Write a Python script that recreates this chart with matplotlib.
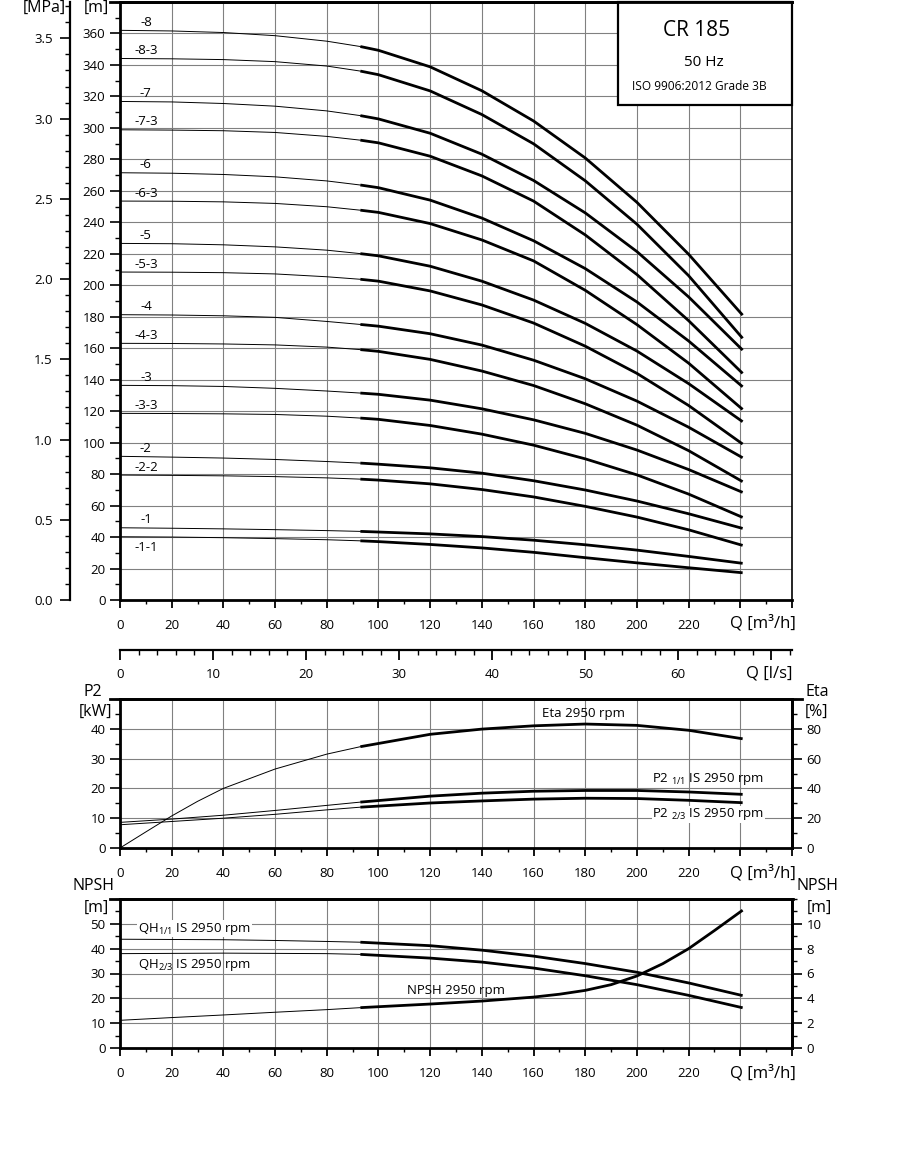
import numpy as np
import matplotlib
matplotlib.use("Agg")
import matplotlib.pyplot as plt
from matplotlib.lines import Line2D
from matplotlib.patches import Rectangle
from matplotlib.ticker import MultipleLocator

plt.rcParams['font.family'] = ['Open Sans', 'DejaVu Sans']
plt.rcParams['mathtext.fontset'] = 'custom'
plt.rcParams['mathtext.rm'] = 'Open Sans'
plt.rcParams['mathtext.it'] = 'Open Sans'

# ---- head curves, H [m] vs Q [m3/h] ----
q_h = [0, 20, 40, 60, 80, 93, 100, 120, 140, 160, 180, 200, 220, 240.9]
h_8   = [362, 361.6, 360.6, 358.6, 355.1, 351.7, 349.3, 338.8, 323.6, 304.4, 280.9, 252.7, 219.7, 181]
h_8_3 = [344.1, 343.9, 343.4, 342.1, 339.3, 336.1, 333.8, 323.5, 308.5, 289.9, 266.4, 238.8, 206.1, 166.3]
h_7   = [316.8, 316.5, 315.5, 313.8, 310.8, 307.8, 305.7, 296.6, 283.3, 266.6, 246.0, 221.4, 192.6, 158.8]
h_7_3 = [298.8, 298.6, 298.2, 297.1, 294.6, 292.2, 290.5, 282.0, 269.5, 253.5, 232.0, 206.8, 177.5, 144]
h_6   = [271.5, 271.2, 270.4, 268.9, 266.3, 263.7, 262.0, 254.1, 242.7, 228.3, 210.6, 189.4, 164.6, 135.5]
h_6_3 = [253.5, 253.4, 253.0, 252.0, 249.9, 247.7, 246.3, 239.2, 228.8, 215.5, 196.8, 175.0, 150.5, 121.1]
h_5   = [226.6, 226.4, 225.7, 224.4, 222.3, 220.1, 218.7, 212.1, 202.6, 190.6, 175.8, 158.2, 137.5, 113.3]
h_5_3 = [208.4, 208.3, 208.0, 207.2, 205.4, 203.8, 202.6, 196.4, 187.5, 176.0, 161.3, 144.0, 123.6, 99.1]
h_4   = [181.3, 181.1, 180.6, 179.6, 177.0, 175.1, 174.0, 169.2, 162.0, 152.4, 140.6, 126.4, 109.8, 90.4]
h_4_3 = [163.1, 163.0, 162.7, 162.1, 160.7, 159.1, 158.0, 152.9, 145.5, 136.3, 124.7, 111.1, 94.9, 75.2]
h_3   = [136.4, 136.2, 135.7, 134.5, 132.8, 131.5, 130.7, 127.0, 121.5, 114.5, 105.9, 95.3, 82.9, 68.4]
h_3_3 = [118.6, 118.5, 118.3, 117.9, 116.8, 115.6, 114.8, 110.9, 105.4, 98.4, 89.7, 79.5, 67.3, 52.5]
h_2   = [91.3, 90.8, 90.2, 89.3, 88.0, 87.0, 86.3, 84.0, 80.6, 75.8, 69.9, 62.9, 54.8, 45.5]
h_2_2 = [79.4, 79.2, 78.9, 78.4, 77.6, 76.8, 76.2, 73.8, 70.2, 65.5, 59.5, 52.7, 44.6, 34.7]
h_1   = [45.9, 45.6, 45.2, 44.7, 44.1, 43.6, 43.2, 42.0, 40.3, 38.0, 35.1, 31.7, 27.7, 23.3]
h_1_1 = [40.2, 40.0, 39.6, 39.0, 38.3, 37.6, 37.1, 35.3, 33.1, 30.3, 26.9, 23.6, 20.5, 17.3]

curve_names = ['-8', '-8-3', '-7', '-7-3', '-6', '-6-3', '-5', '-5-3',
               '-4', '-4-3', '-3', '-3-3', '-2', '-2-2', '-1', '-1-1']
curves = [h_8, h_8_3, h_7, h_7_3, h_6, h_6_3, h_5, h_5_3,
          h_4, h_4_3, h_3, h_3_3, h_2, h_2_2, h_1, h_1_1]

# ---- power / efficiency ----
q_eta = [0, 10, 20, 30, 40, 60, 80, 93, 120, 140, 160, 180, 200, 220, 240.9]
eta = [0, 10.8, 21.5, 31.3, 40, 53, 63, 68, 76.3, 79.8, 82.0, 83.2, 82.3, 79.0, 73.3]
q_p = [0, 20, 40, 60, 80, 93, 120, 140, 160, 180, 200, 220, 240.9]
p2_11 = [8.6, 9.7, 11.0, 12.6, 14.3, 15.4, 17.4, 18.4, 19.05, 19.3, 19.3, 18.8, 18.0]
p2_23 = [7.8, 8.9, 10.0, 11.3, 12.8, 13.7, 15.1, 15.8, 16.4, 16.7, 16.6, 16.0, 15.2]

# ---- NPSH panel ----
q_qh = [0, 20, 40, 60, 80, 93, 120, 140, 160, 180, 200, 220, 240.9]
qh_11 = [43.8, 43.7, 43.6, 43.3, 42.9, 42.6, 41.2, 39.4, 37.0, 34.0, 30.5, 26.2, 21.1]
qh_23 = [38.0, 38.1, 38.2, 38.1, 38.0, 37.7, 36.2, 34.6, 32.2, 29.1, 25.5, 21.2, 16.2]
q_npsh = [0, 20, 40, 60, 80, 93, 120, 140, 160, 170, 180, 190, 200, 210, 220, 230, 240.9]
npsh = [2.23, 2.45, 2.66, 2.88, 3.09, 3.25, 3.54, 3.78, 4.1, 4.33, 4.64, 5.1, 5.8, 6.79, 8.0, 9.46, 11.1]

q_split = 93          # thin line below, thick line above
M_PER_MPA = 101.97
W, H = 901, 1162
FS = 9.5
GRID = '#808080'

fig = plt.figure(figsize=(W / 100, H / 100), dpi=100)


def rect(x0, y0, x1, y1):
    return [x0 / W, 1 - y1 / H, (x1 - x0) / W, (y1 - y0) / H]


def ftext(x, y, s, **kw):
    kw.setdefault('fontsize', FS)
    kw.setdefault('va', 'center')
    return fig.text(x / W, 1 - y / H, s, **kw)


def fline(x0, x1, y, lw=2):
    fig.add_artist(Line2D([x0 / W, x1 / W], [1 - y / H, 1 - y / H], color='k', lw=lw))


def draw_curve(ax, q, v, zorder=3):
    q = np.asarray(q, float)
    v = np.asarray(v, float)
    lo = q <= q_split
    hi = q >= q_split
    ax.plot(q[lo], v[lo], color='k', lw=0.7, zorder=zorder)
    ax.plot(q[hi], v[hi], color='k', lw=2.0, zorder=zorder,
            solid_capstyle='butt', solid_joinstyle='round')


def q_axis(ax):
    ax.set_xlim(0, 260)
    ticks = list(range(0, 261, 20))
    ax.set_xticks(ticks)
    ax.set_xticklabels([str(t) if t <= 220 else '' for t in ticks])
    ax.xaxis.set_minor_locator(MultipleLocator(10))
    ax.tick_params(axis='x', which='major', length=6, width=1.3, labelsize=FS, pad=8)
    ax.tick_params(axis='x', which='minor', length=3, width=1)
    ax.grid(True, which='major', color=GRID, lw=0.8)
    ax.set_axisbelow(True)


def y_ticks(ax, pad=3.5):
    ax.tick_params(axis='y', which='major', length=7, width=1.2, labelsize=FS, pad=pad)
    ax.tick_params(axis='y', which='minor', length=3.5, width=1)


# ================= head panel =================
ax_h = fig.add_axes(rect(120, 2, 792, 600))
ax_h.set_ylim(0, 380)
q_axis(ax_h)
ax_h.set_yticks(range(0, 361, 20))
ax_h.yaxis.set_minor_locator(MultipleLocator(10))
y_ticks(ax_h)
for s in ['left', 'bottom', 'top']:
    ax_h.spines[s].set_linewidth(2)
ax_h.spines['right'].set_linewidth(1.2)

for name, h in zip(curve_names, curves):
    draw_curve(ax_h, q_h, h)
    dy = -7 if name == '-1-1' else 5
    ax_h.text(10, h[0] + dy, name, ha='center', va='center', fontsize=FS)

# model box
box_x0 = (618 - 120) / 672
box_y0 = (600 - 105) / 598
ax_h.add_patch(Rectangle((box_x0, box_y0), 1 - box_x0, 1 - box_y0, transform=ax_h.transAxes,
                         fc='white', ec='black', lw=1.6, zorder=6, clip_on=False))
ftext(697, 31, 'CR 185', fontsize=15, ha='center', zorder=7)
ftext(704, 62, '50 Hz', fontsize=11, ha='center', zorder=7)
ftext(699, 86, 'ISO 9906:2012 Grade 3B', fontsize=8.6, ha='center', zorder=7)
fline(110, 792, 2)

# MPa axis
ax_p = fig.add_axes(rect(120, 2, 792, 600))
ax_p.patch.set_visible(False)
ax_p.set_ylim(0, 380 / M_PER_MPA)
ax_p.set_xticks([])
for s in ['right', 'top', 'bottom']:
    ax_p.spines[s].set_visible(False)
ax_p.spines['left'].set_position(('outward', 36))
ax_p.spines['left'].set_linewidth(1.6)
mpa_ticks = np.arange(0, 3.51, 0.5)
ax_p.set_yticks(mpa_ticks)
ax_p.set_yticklabels([f'{v:.1f}' for v in mpa_ticks])
ax_p.yaxis.set_minor_locator(MultipleLocator(0.1))
y_ticks(ax_p, pad=5.5)

ftext(44, 8, '[MPa]', fontsize=11.5, ha='center')
ftext(96, 8, '[m]', fontsize=11.5, ha='center')
ftext(796, 623, 'Q [m³/h]', fontsize=12, ha='right')

# ================= l/s scale =================
ax_l = fig.add_axes(rect(120, 649.5, 792, 650))
ax_l.set_xlim(0, 260 / 3.6)
ax_l.set_yticks([])
for s in ['left', 'right', 'top']:
    ax_l.spines[s].set_visible(False)
ax_l.spines['bottom'].set_linewidth(1.6)
ls_ticks = list(range(0, 71, 10))
ax_l.set_xticks(ls_ticks)
ax_l.set_xticklabels([str(t) if t <= 60 else '' for t in ls_ticks])
ax_l.xaxis.set_minor_locator(MultipleLocator(2))
ax_l.tick_params(axis='x', which='major', length=7, width=1.3, labelsize=FS, pad=6)
ax_l.tick_params(axis='x', which='minor', length=3.5, width=1)
ftext(793, 673, 'Q [l/s]', fontsize=12, ha='right')

# ================= P2 / Eta panel =================
ax_e = fig.add_axes(rect(120, 699, 792, 848))
ax_e.set_ylim(0, 50)
q_axis(ax_e)
ax_e.set_yticks(range(0, 41, 10))
ax_e.yaxis.set_minor_locator(MultipleLocator(5))
y_ticks(ax_e)
for s in ['left', 'bottom', 'top', 'right']:
    ax_e.spines[s].set_linewidth(2)
ax_e2 = ax_e.twinx()
ax_e2.set_ylim(0, 100)
ax_e2.set_yticks(range(0, 81, 20))
ax_e2.yaxis.set_minor_locator(MultipleLocator(10))
y_ticks(ax_e2)
ax_e2.spines['right'].set_linewidth(2)

draw_curve(ax_e2, q_eta, eta)
draw_curve(ax_e, q_p, p2_11)
draw_curve(ax_e, q_p, p2_23)
ax_e2.text(179.5, 90, 'Eta 2950 rpm', ha='center', va='center', fontsize=FS)
ax_e.text(206, 23.0, r'P2 $_{1/1}$ IS 2950 rpm', ha='left', va='center', fontsize=FS)
ax_e.text(206, 11.3, r'P2 $_{2/3}$ IS 2950 rpm', ha='left', va='center', fontsize=FS,
          bbox=dict(fc='white', ec='none', pad=0.5))
fline(110, 802, 699)
ftext(93, 692, 'P2', fontsize=11.5, ha='center')
ftext(95, 712, '[kW]', fontsize=11.5, ha='center')
ftext(817, 692, 'Eta', fontsize=11.5, ha='center')
ftext(817, 712, '[%]', fontsize=11.5, ha='center')
ftext(796, 873, 'Q [m³/h]', fontsize=12, ha='right')

# ================= NPSH panel =================
ax_n = fig.add_axes(rect(120, 899, 792, 1048))
ax_n.set_ylim(0, 60)
q_axis(ax_n)
ax_n.set_yticks(range(0, 51, 10))
ax_n.yaxis.set_minor_locator(MultipleLocator(5))
y_ticks(ax_n)
for s in ['left', 'bottom', 'top', 'right']:
    ax_n.spines[s].set_linewidth(2)
ax_n2 = ax_n.twinx()
ax_n2.set_ylim(0, 12)
ax_n2.set_yticks(range(0, 11, 2))
ax_n2.yaxis.set_minor_locator(MultipleLocator(1))
y_ticks(ax_n2)
ax_n2.spines['right'].set_linewidth(2)

draw_curve(ax_n, q_qh, qh_11)
draw_curve(ax_n, q_qh, qh_23)
draw_curve(ax_n2, q_npsh, npsh)
ax_n.text(7, 48.0, r'QH$_{1/1}$ IS 2950 rpm', ha='left', va='center', fontsize=FS,
          bbox=dict(fc='white', ec='none', pad=0.5))
ax_n.text(7, 33.6, r'QH$_{2/3}$ IS 2950 rpm', ha='left', va='center', fontsize=FS)
ax_n.text(111, 23.3, 'NPSH 2950 rpm', ha='left', va='center', fontsize=FS)
fline(110, 793, 899)
ftext(94, 886, 'NPSH', fontsize=11.5, ha='center')
ftext(96, 908, '[m]', fontsize=11.5, ha='center')
ftext(817, 886, 'NPSH', fontsize=11.5, ha='center')
ftext(819, 908, '[m]', fontsize=11.5, ha='center')
ftext(796, 1073, 'Q [m³/h]', fontsize=12, ha='right')

fig.savefig('out.png', dpi=100)
